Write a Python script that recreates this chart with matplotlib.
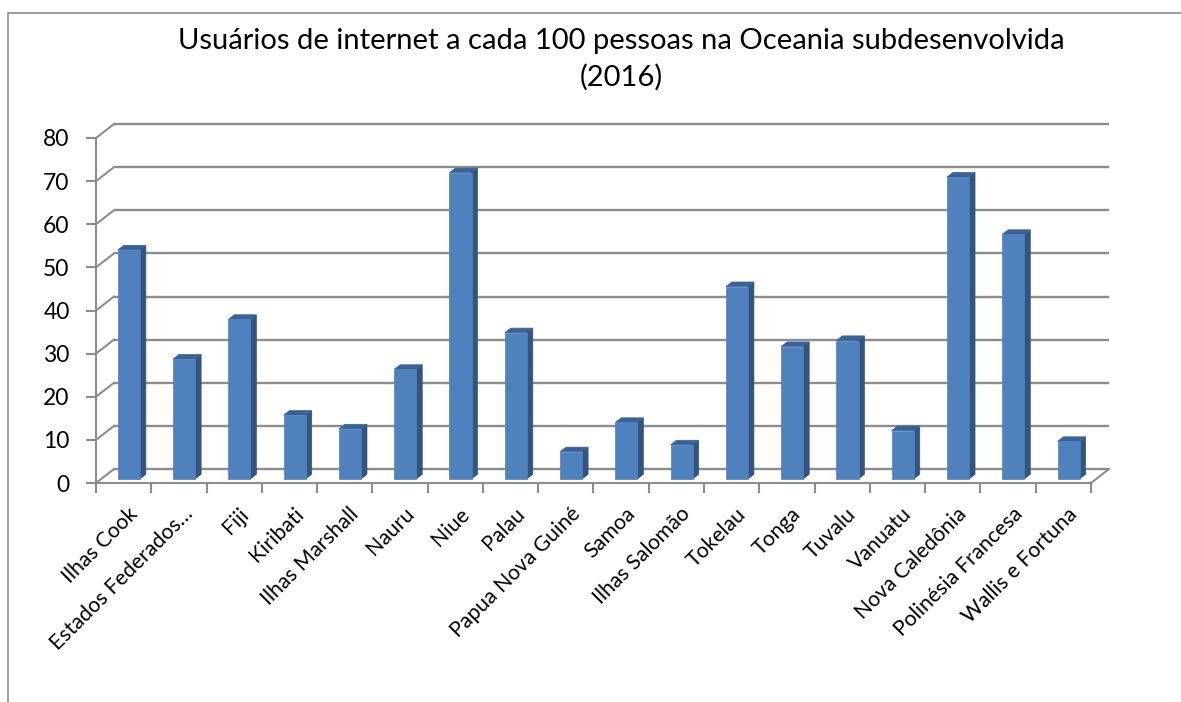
import numpy as np
import matplotlib
matplotlib.use('Agg')
from matplotlib import pyplot as plt
from matplotlib.patches import Polygon, Rectangle
from matplotlib.transforms import IdentityTransform, offset_copy, ScaledTranslation

plt.rcParams['font.family'] = ['Lato', 'DejaVu Sans']

# data
paises = ['Ilhas Cook', 'Estados Federados…', 'Fiji', 'Kiribati', 'Ilhas Marshall',
          'Nauru', 'Niue', 'Palau', 'Papua Nova Guiné', 'Samoa', 'Ilhas Salomão',
          'Tokelau', 'Tonga', 'Tuvalu', 'Vanuatu', 'Nova Caledônia',
          'Polinésia Francesa', 'Wallis e Fortuna']
usuarios = [53.1, 27.8, 37.0, 14.8, 11.6, 25.4, 71.0, 33.9, 6.3, 13.1, 7.9,
            44.6, 30.7, 32.1, 11.2, 70.0, 56.7, 8.7]
yticks = [0, 10, 20, 30, 40, 50, 60, 70, 80]

titulo = 'Usuários de internet a cada 100 pessoas na Oceania subdesenvolvida'
subtitulo = '(2016)'

W, H = 1181, 702
grid_c = '#8c8c8c'
front_c = '#4f81bd'
side_c = '#32547e'
top_c = '#3b6298'
depth = np.array([18.0, 14.0])   # pixel offset of back wall
z0, z1 = 0.29, 0.62               # bar depth span

fig = plt.figure(figsize=(W / 100, H / 100), dpi=100)
ax = fig.add_axes([96 / W, (H - 483) / H, 995 / W, 345 / H])
n = len(paises)
ax.set_xlim(0, n)
ax.set_ylim(0, 80)
ax.set_facecolor('none')

for s in ['top', 'right']:
    ax.spines[s].set_visible(False)
for s in ['left', 'bottom']:
    ax.spines[s].set_color(grid_c)
    ax.spines[s].set_linewidth(1.5)

ax.set_yticks(yticks)
ax.set_yticklabels([str(v) for v in yticks], fontsize=16.5)
ax.set_xticks(np.arange(n + 1))
ax.set_xticklabels([])
ax.set_xticks(np.arange(n) + 0.5, minor=True)
ax.set_xticklabels(paises, minor=True, rotation=45, ha='right', va='top',
                   rotation_mode='anchor', fontsize=15.3)
ax.tick_params(axis='both', which='major', length=7, width=1.5, color=grid_c)
ax.tick_params(axis='x', which='minor', length=0, pad=15)
ax.tick_params(axis='y', pad=12)
shift = ScaledTranslation(4 / 100, 0, fig.dpi_scale_trans)
for lbl in ax.get_xticklabels(minor=True):
    lbl.set_transform(lbl.get_transform() + shift)

# back wall grid
back = offset_copy(ax.transData, fig=fig, x=depth[0], y=depth[1], units='dots')
ax.hlines(yticks, 0, n, colors=grid_c, linewidth=1.7, transform=back, clip_on=False)


def px(x, y, z):
    p = ax.transData.transform((x, y))
    return p + z * depth


idt = IdentityTransform()
# left wall diagonals and floor right edge
for v in yticks:
    a, b = px(0, v, 0), px(0, v, 1)
    fig.add_artist(plt.Line2D([a[0], b[0]], [a[1], b[1]], color=grid_c,
                              linewidth=1.5, transform=idt))
a, b = px(n, 0, 0), px(n, 0, 1)
fig.add_artist(plt.Line2D([a[0], b[0]], [a[1], b[1]], color=grid_c,
                          linewidth=1.5, transform=idt))

# bars
for i, v in enumerate(usuarios):
    xl, xr = i + 0.3, i + 0.7
    front = [px(xl, 0, z0), px(xr, 0, z0), px(xr, v, z0), px(xl, v, z0)]
    side = [px(xr, 0, z0), px(xr, 0, z1), px(xr, v, z1), px(xr, v, z0)]
    top = [px(xl, v, z0), px(xr, v, z0), px(xr, v, z1), px(xl, v, z1)]
    for pts, c in [(side, side_c), (top, top_c), (front, front_c)]:
        fig.add_artist(Polygon(pts, closed=True, facecolor=c, edgecolor=c,
                               linewidth=0.5, transform=idt))

# chart border
fig.add_artist(Rectangle((8 / W, -0.05), 1.2, 1 - 13 / H + 0.05,
                         transform=fig.transFigure, fill=False,
                         edgecolor='#8a8a8a', linewidth=1.2))

fig.text(621 / W, 1 - 41 / H, titulo, ha='center', va='center', fontsize=21)
fig.text(621 / W, 1 - 77 / H, subtitulo, ha='center', va='center', fontsize=21)

fig.savefig('out.png', dpi=100)
